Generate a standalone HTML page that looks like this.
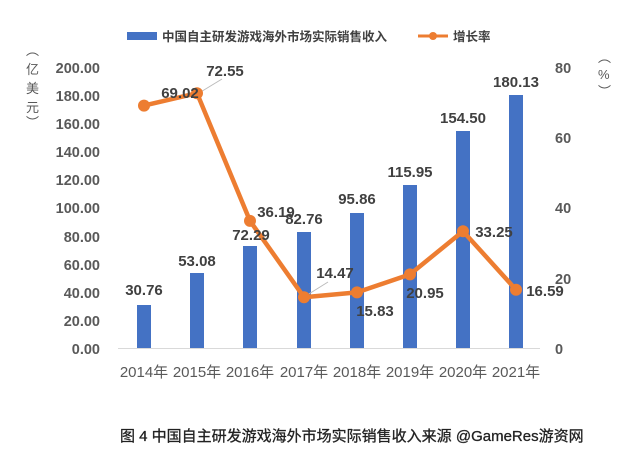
<!DOCTYPE html><html><head><meta charset="utf-8"><style>body{margin:0;background:#fff}svg{display:block}text{font-family:"Liberation Sans","Noto Sans CJK SC",sans-serif}</style></head><body>
<svg width="640" height="457" xmlns="http://www.w3.org/2000/svg">
<g font-size="14.5" font-weight="bold" fill="#595959">
<rect x="127" y="32" width="30" height="8" fill="#4472c4"/>
<text x="162" y="41" font-size="12.5" fill="#404040">中国自主研发游戏海外市场实际销售收入</text>
<line x1="418" y1="36" x2="448" y2="36" stroke="#ed7d31" stroke-width="3"/><circle cx="433" cy="36" r="4" fill="#ed7d31"/>
<text x="453" y="41" font-size="12.5" fill="#404040">增长率</text>
<g text-anchor="end">
<text x="100" y="73">200.00</text><text x="100" y="101">180.00</text><text x="100" y="129">160.00</text><text x="100" y="157">140.00</text><text x="100" y="185">120.00</text><text x="100" y="213">100.00</text><text x="100" y="242">80.00</text><text x="100" y="270">60.00</text><text x="100" y="298">40.00</text><text x="100" y="326">20.00</text><text x="100" y="354">0.00</text></g>
<text x="555" y="73">80</text><text x="555" y="143">60</text><text x="555" y="213">40</text><text x="555" y="284">20</text><text x="555" y="354">0</text>
<g font-weight="normal" font-size="13"><text x="26" y="55">︵</text><text x="26" y="74">亿</text><text x="26" y="93">美</text><text x="26" y="112">元</text><text x="26" y="127">︶</text>
<text x="598" y="62">︵</text><text x="598" y="79">%</text><text x="598" y="96">︶</text></g>
<line x1="118" y1="348.5" x2="540" y2="348.5" stroke="#d9d9d9"/>
<g fill="#4472c4">
<rect x="137" y="305" width="14" height="43"/><rect x="190" y="273" width="14" height="75"/><rect x="243" y="246" width="14" height="102"/><rect x="297" y="232" width="14" height="116"/><rect x="350" y="213" width="14" height="135"/><rect x="403" y="185" width="14" height="163"/><rect x="456" y="131" width="14" height="217"/><rect x="509" y="95" width="14" height="253"/></g>
<line x1="199" y1="93" x2="222" y2="79" stroke="#bbb" stroke-width="1"/>
<line x1="304" y1="297" x2="328" y2="282" stroke="#bbb" stroke-width="1"/>
<polyline points="144,105.6 197,93.2 250,220.9 304,297.2 357,292.4 410,274.4 463,231.2 516,289.7" fill="none" stroke="#ed7d31" stroke-width="4.5" stroke-linejoin="round"/>
<g fill="#ed7d31"><circle cx="144" cy="105.6" r="6"/><circle cx="197" cy="93.2" r="6"/><circle cx="250" cy="220.9" r="6"/><circle cx="304" cy="297.2" r="6"/><circle cx="357" cy="292.4" r="6"/><circle cx="410" cy="274.4" r="6"/><circle cx="463" cy="231.2" r="6"/><circle cx="516" cy="289.7" r="6"/></g>
<g text-anchor="middle" fill="#404040" font-size="15">
<text x="144" y="295">30.76</text><text x="197" y="266">53.08</text><text x="251" y="240">72.29</text><text x="304" y="224">82.76</text><text x="357" y="204">95.86</text><text x="410" y="177">115.95</text><text x="463" y="123">154.50</text><text x="516" y="87">180.13</text>
<text x="180" y="98">69.02</text><text x="225" y="76">72.55</text><text x="276" y="217">36.19</text><text x="335" y="278">14.47</text><text x="375" y="316">15.83</text><text x="425" y="298">20.95</text><text x="494" y="237">33.25</text><text x="545" y="296">16.59</text></g>
<g text-anchor="middle" fill="#595959" font-weight="normal" font-size="15">
<text x="144" y="377">2014年</text><text x="197" y="377">2015年</text><text x="250" y="377">2016年</text><text x="304" y="377">2017年</text><text x="357" y="377">2018年</text><text x="410" y="377">2019年</text><text x="463" y="377">2020年</text><text x="516" y="377">2021年</text></g>
</g>
<text x="120" y="441" font-size="15" fill="#222" stroke="#222" stroke-width="0.3">图 4 中国自主研发游戏海外市场实际销售收入来源 @GameRes游资网</text>
</svg></body></html>
